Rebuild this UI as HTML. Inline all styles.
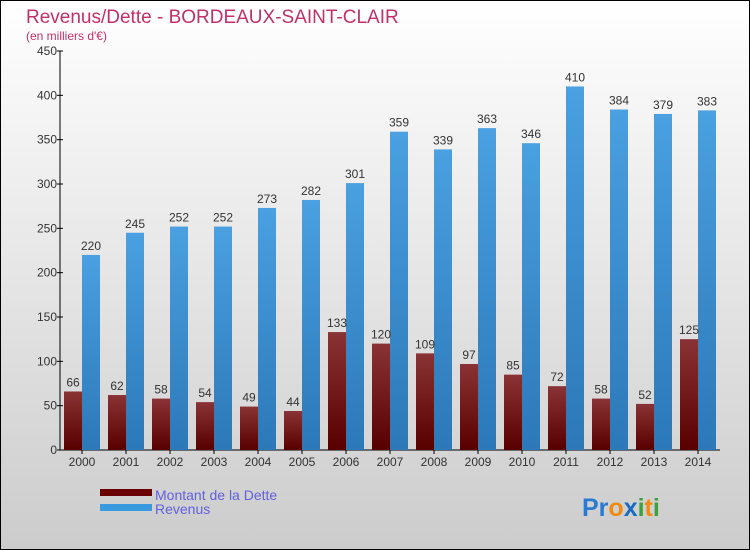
<!DOCTYPE html>
<html><head><meta charset="utf-8"><style>
body{margin:0}
svg{display:block;font-family:"Liberation Sans","DejaVu Sans",sans-serif}
</style></head><body>
<svg id="c" width="750" height="550" viewBox="0 0 750 550">
<defs>
<linearGradient id="bg" x1="0" y1="0" x2="0" y2="1"><stop offset="0" stop-color="#ffffff"/><stop offset="1" stop-color="#cccccc"/></linearGradient>
<linearGradient id="gd" x1="0" y1="0" x2="0" y2="1"><stop offset="0" stop-color="#8a3336"/><stop offset="1" stop-color="#580000"/></linearGradient>
<linearGradient id="gr" x1="0" y1="0" x2="0" y2="1"><stop offset="0" stop-color="#4aa0e0"/><stop offset="1" stop-color="#2c78b8"/></linearGradient>
</defs>
<rect x="0.5" y="0.5" width="749" height="549" fill="url(#bg)" stroke="#000"/>
<text x="26" y="23" font-size="19" fill="#c0306a">Revenus/Dette - BORDEAUX-SAINT-CLAIR</text>
<text x="26" y="40" font-size="12" fill="#c0306a">(en milliers d'€)</text>
<g id="axes"></g>
<g id="bars"></g>
<rect x="100" y="489" width="52" height="7" fill="#6a0000"/>
<text x="155" y="500" font-size="14" fill="#6060e0">Montant de la Dette</text>
<rect x="100" y="504" width="52" height="7" fill="#3a9ae0"/>
<text x="155" y="514" font-size="14" fill="#6060e0">Revenus</text>
<text x="582" y="516" font-size="25" font-weight="bold"><tspan fill="#2a7ad0">Pr</tspan><tspan fill="#f08a10">o</tspan><tspan fill="#1a6ac0">x</tspan><tspan fill="#40a040">i</tspan><tspan fill="#f08a10">t</tspan><tspan fill="#40a040">i</tspan></text>
</svg>
<script>
const years=["2000","2001","2002","2003","2004","2005","2006","2007","2008","2009","2010","2011","2012","2013","2014"];
const dette=[66,62,58,54,49,44,133,120,109,97,85,72,58,52,125];
const revenus=[220,245,252,252,273,282,301,359,339,363,346,410,384,379,383];
const yTicks=[0,50,100,150,200,250,300,350,400,450];
const NS="http://www.w3.org/2000/svg";
const y0=450,yTop=51,yMax=450;
const y=v=>y0-(v/yMax)*(y0-yTop);
const xc=i=>82+44*i;
const bw=18;
const ax=document.getElementById('axes'),bg=document.getElementById('bars');
function mk(tag,at,parent){const e=document.createElementNS(NS,tag);for(const k in at)e.setAttribute(k,at[k]);parent.appendChild(e);return e;}
let l=mk('line',{x1:60,y1:yTop,x2:60,y2:y0,stroke:'#000'},ax);


l=mk('line',{x1:60,y1:y0,x2:720,y2:y0,stroke:'#000'},ax);


yTicks.forEach(t=>{
 const tk=mk('line',{x1:57,x2:63,y1:y(t),y2:y(t),stroke:'#000'},ax);
 
 
 const tx=mk('text',{x:57,y:y(t)+4,'font-size':12,'text-anchor':'end',fill:'#333'},ax);
 tx.textContent=t;
 
 
});
years.forEach((yr,i)=>{
 const c=xc(i);
 const tk=mk('line',{x1:c,x2:c,y1:y0,y2:y0+4,stroke:'#000'},ax);
 
 
 const tx=mk('text',{x:c,y:y0+16,'font-size':12,'text-anchor':'middle',fill:'#333'},ax);
 tx.textContent=yr;
 
 
 const d=mk('rect',{x:c-bw,y:y(dette[i]),width:bw,height:y0-y(dette[i]),fill:'url(#gd)'},bg);
 
 
 const r=mk('rect',{x:c,y:y(revenus[i]),width:bw,height:y0-y(revenus[i]),fill:'url(#gr)'},bg);
 
 
 const dl=mk('text',{x:c-bw/2,y:y(dette[i])-5,'font-size':12,'text-anchor':'middle',fill:'#333'},bg);
 dl.textContent=dette[i];
 
 
 const rl=mk('text',{x:c+bw/2,y:y(revenus[i])-5,'font-size':12,'text-anchor':'middle',fill:'#333'},bg);
 rl.textContent=revenus[i];
 
 
});
</script>
</body></html>
